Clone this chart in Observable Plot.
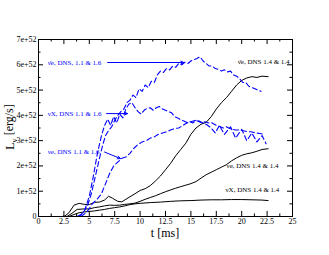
<!DOCTYPE html>
<html><head><meta charset="utf-8">
<script src="https://cdn.jsdelivr.net/npm/d3@7"></script>
<script src="https://cdn.jsdelivr.net/npm/@observablehq/plot@0.6"></script>
<style>body{margin:0;background:#fff}</style>
</head><body><div id="chart"></div>
<script>
// tick values
const xMajor = [0, 2.5, 5, 7.5, 10, 12.5, 15, 17.5, 20, 22.5, 25];
const xMinor = [1.25, 3.75, 6.25, 8.75, 11.25, 13.75, 16.25, 18.75, 21.25, 23.75];
const yMajor = [0, 1, 2, 3, 4, 5, 6, 7];
const yMinor = [0.5, 1.5, 2.5, 3.5, 4.5, 5.5, 6.5];
const yTickLabels = ["0", "1e+52", "2e+52", "3e+52", "4e+52", "5e+52", "6e+52", "7e+52"];

// DNS 1.4 & 1.4 (solid black) : [t ms, L in 1e52 erg/s]
const antiNueB = [[2.3,0],[2.6,0.02],[3.0,0.15],[3.5,0.45],[4.0,0.52],[4.5,0.48],[5.0,0.47],[5.5,0.56],[6.0,0.57],[6.5,0.65],[6.9,0.8],[7.3,0.72],[7.8,0.6],[8.2,0.58],[8.6,0.68],[9.0,0.78],[9.5,0.9],[10,1.03],[10.5,1.1],[11,1.22],[11.5,1.4],[12,1.6],[12.5,1.85],[13,2.1],[13.5,2.4],[14,2.65],[14.5,2.9],[15,3.25],[15.5,3.5],[16,3.65],[16.5,3.72],[17,3.95],[17.5,4.25],[18,4.5],[18.5,4.7],[19,4.95],[19.5,5.2],[20,5.38],[20.5,5.48],[21,5.53],[21.5,5.5],[22,5.55],[22.6,5.53]];
const nueB = [[2.8,0],[3.2,0.1],[3.8,0.28],[4.5,0.3],[5.0,0.3],[5.5,0.35],[6.0,0.38],[6.5,0.42],[7.0,0.45],[7.5,0.44],[8.0,0.45],[8.5,0.48],[9.0,0.5],[9.5,0.53],[10,0.6],[10.5,0.68],[11,0.75],[11.5,0.82],[12,0.9],[12.5,0.98],[13,1.05],[13.5,1.12],[14,1.18],[14.5,1.24],[15,1.3],[15.5,1.38],[16,1.52],[16.5,1.65],[17,1.75],[17.5,1.85],[18,1.95],[18.5,2.05],[19,2.2],[19.5,2.32],[20,2.42],[20.5,2.48],[21,2.52],[21.5,2.58],[22,2.65],[22.6,2.68]];
const nuxB = [[3.0,0],[3.5,0.08],[4.0,0.15],[4.5,0.18],[5.0,0.2],[5.5,0.22],[6.0,0.25],[6.5,0.28],[7.0,0.32],[7.5,0.35],[8.0,0.38],[8.5,0.42],[9.0,0.47],[9.5,0.5],[10,0.52],[11,0.55],[12,0.57],[13,0.6],[14,0.62],[15,0.63],[16,0.65],[17,0.66],[18,0.66],[19,0.67],[20,0.67],[21,0.66],[22,0.65],[22.6,0.63]];

// DNS 1.1 & 1.6 (dashed blue)
const antiNueD = [[3.8,0],[4.3,0.1],[4.8,0.4],[5.2,0.9],[5.6,1.6],[6.0,2.3],[6.3,2.8],[6.6,3.2],[6.9,3.4],[7.2,3.55],[7.5,3.8],[7.8,4.0],[8.1,4.15],[8.4,4.25],[8.7,4.5],[9.0,4.6],[9.3,4.8],[9.6,4.7],[9.9,5.05],[10.2,4.95],[10.5,5.2],[10.8,5.1],[11.1,5.35],[11.4,5.3],[11.7,5.6],[12.0,5.75],[12.3,5.7],[12.6,5.85],[12.9,5.8],[13.2,5.95],[13.5,5.9],[13.8,6.05],[14.1,6.0],[14.4,6.1],[14.7,6.05],[15.0,6.15],[15.3,6.2],[15.6,6.25],[15.9,6.32],[16.2,6.15],[16.5,6.05],[16.8,5.95],[17.1,5.95],[17.4,5.85],[17.7,5.82],[18.0,5.75],[18.3,5.8],[18.6,5.72],[18.9,5.75],[19.2,5.6],[19.5,5.55],[19.8,5.45],[20.1,5.3],[20.4,5.3],[20.7,5.15],[21.0,5.1],[21.3,5.05],[21.6,5.0],[21.9,4.95]];
const nuxD = [[4.0,0],[4.5,0.2],[5.0,0.8],[5.4,1.6],[5.8,2.5],[6.2,3.2],[6.5,3.6],[6.8,3.85],[7.1,3.6],[7.4,3.95],[7.7,3.7],[8.0,4.05],[8.3,3.9],[8.6,4.25],[8.9,4.45],[9.2,4.5],[9.5,4.3],[9.8,4.15],[10.1,4.05],[10.4,4.2],[10.7,4.28],[11.0,4.3],[11.3,4.2],[11.6,4.3],[11.9,4.35],[12.2,4.25],[12.5,4.2],[12.8,4.15],[13.1,4.1],[13.4,3.95],[13.7,3.9],[14.0,3.82],[14.3,3.78],[14.6,3.72],[14.9,3.75],[15.2,3.7],[15.5,3.8],[15.8,3.75],[16.1,3.7],[16.4,3.75],[16.7,3.7],[17.0,3.72],[17.3,3.65],[17.6,3.58],[17.9,3.55],[18.2,3.5],[18.5,3.55],[18.8,3.48],[19.1,3.45],[19.4,3.42],[19.7,3.42],[20.0,3.4],[20.3,3.38],[20.6,3.35],[20.9,3.35],[21.2,3.32],[21.5,3.3],[21.8,3.28],[22.2,3.25]];
const nueD = [[4.2,0],[4.8,0.2],[5.3,0.5],[5.8,0.7],[6.2,0.9],[6.6,1.3],[7.0,1.7],[7.4,2.0],[7.8,2.15],[8.2,2.3],[8.6,2.35],[9.0,2.5],[9.4,2.7],[9.8,2.85],[10.2,2.95],[10.6,3.0],[11.0,3.1],[11.4,3.15],[11.8,3.25],[12.2,3.3],[12.6,3.35],[13.0,3.42],[13.4,3.48],[13.8,3.5],[14.2,3.6],[14.6,3.7],[15.0,3.75],[15.4,3.8],[15.8,3.78],[16.2,3.7],[16.6,3.62],[17.0,3.5],[17.4,3.3],[17.8,3.6],[18.3,3.25],[18.9,3.55],[19.4,3.1],[20.0,3.45],[20.5,3.0],[21.0,3.3],[21.5,2.95],[22.0,3.2],[22.4,2.88]];

// curve labels
const labels = [
  {t:0.9, L:6.09, nu:"\u03BD\u0304", sub:"e", rest:", DNS, 1.1 & 1.6", c:"#0000ff"},
  {t:0.9, L:4.05, nu:"\u03BD", sub:"X", rest:", DNS 1.1 & 1.6", c:"#0000ff"},
  {t:0.9, L:2.57, nu:"\u03BD", sub:"e", rest:", DNS 1.1 & 1.6", c:"#0000ff"},
  {t:19.6, L:6.13, nu:"\u03BD\u0304", sub:"e", rest:", DNS 1.4 & 1.4", c:"#000000"},
  {t:18.5, L:2.02, nu:"\u03BD", sub:"e", rest:", DNS 1.4 & 1.4", c:"#000000"},
  {t:18.4, L:1.07, nu:"\u03BD", sub:"X", rest:", DNS 1.4 & 1.4", c:"#000000"}
];
// label arrows [t1, L1, t2, L2]
const arrows = [[6.8,6.09,14.3,6.09],[6.7,4.07,8.76,4.07],[6.5,2.55,8.07,2.29]];

const font = "Liberation Serif, Times New Roman, serif";
const blueStyle = {stroke:"#0000ff", strokeWidth:1.1, strokeDasharray:"5,3"};

const plot = Plot.plot({
  width: 329, height: 255,
  marginLeft: 38, marginRight: 37, marginTop: 39, marginBottom: 39,
  style: {fontFamily: font, background: "white"},
  x: {domain: [0, 25]},
  y: {domain: [0, 7]},
  marks: [
    Plot.axisX(xMajor, {tickSize: 0, tickPadding: 2, fontSize: 8, label: null, tickFormat: d => String(d)}),
    Plot.axisY(yMajor, {tickSize: 0, tickPadding: 2, fontSize: 8, label: null, tickFormat: (d, i) => yTickLabels[i]}),
    Plot.ruleX(xMajor, {x: d => d, y1: 0, y2: 0.2, stroke: "black"}),
    Plot.ruleX(xMajor, {x: d => d, y1: 7, y2: 6.8, stroke: "black"}),
    Plot.ruleX(xMinor, {x: d => d, y1: 0, y2: 0.1, stroke: "black"}),
    Plot.ruleX(xMinor, {x: d => d, y1: 7, y2: 6.9, stroke: "black"}),
    Plot.ruleY(yMajor, {y: d => d, x1: 0, x2: 0.49, stroke: "black"}),
    Plot.ruleY(yMajor, {y: d => d, x1: 25, x2: 24.51, stroke: "black"}),
    Plot.ruleY(yMinor, {y: d => d, x1: 0, x2: 0.25, stroke: "black"}),
    Plot.ruleY(yMinor, {y: d => d, x1: 25, x2: 24.75, stroke: "black"}),
    Plot.line(antiNueB, {stroke: "black", strokeWidth: 1}),
    Plot.line(nueB, {stroke: "black", strokeWidth: 1}),
    Plot.line(nuxB, {stroke: "black", strokeWidth: 1}),
    Plot.line(antiNueD, blueStyle),
    Plot.line(nuxD, blueStyle),
    Plot.line(nueD, blueStyle),
    Plot.arrow(arrows, {x1: d => d[0], y1: d => d[1], x2: d => d[2], y2: d => d[3], stroke: "#0000ff", strokeWidth: 1, headLength: 5, headAngle: 50}),
    Plot.text(labels, {x: "t", y: "L", text: d => d.nu + d.sub + d.rest, fill: d => d.c, textAnchor: "start", fontSize: 7, ariaLabel: "curve-label"}),
    Plot.frame({stroke: "black", strokeWidth: 1})
  ]
});

const svg = d3.select(plot);
svg.selectAll('g[aria-label="curve-label"] text').each(function(_, j) {
  const L = labels[j];
  const t = d3.select(this);
  t.text(null);
  t.append("tspan").text(L.nu);
  t.append("tspan").attr("dy", "0.35em").attr("font-size", "5.5").text(L.sub);
  t.append("tspan").attr("dy", "-0.35em").text(L.rest);
});
// axis titles
svg.append("text").attr("x", 165).attr("y", 237).attr("text-anchor", "middle")
  .attr("font-size", 12).attr("font-family", font).attr("fill", "black").text("t [ms]");
const yl = svg.append("text").attr("transform", "translate(14,127) rotate(-90)")
  .attr("text-anchor", "middle").attr("font-size", 12).attr("font-family", font).attr("fill", "black");
yl.append("tspan").text("L");
yl.append("tspan").attr("dy", "0.3em").attr("font-size", 9).text("\u03BD");
yl.append("tspan").attr("dy", "-0.3em").text(" [erg/s]");

document.getElementById("chart").appendChild(plot);
</script>
</body></html>
